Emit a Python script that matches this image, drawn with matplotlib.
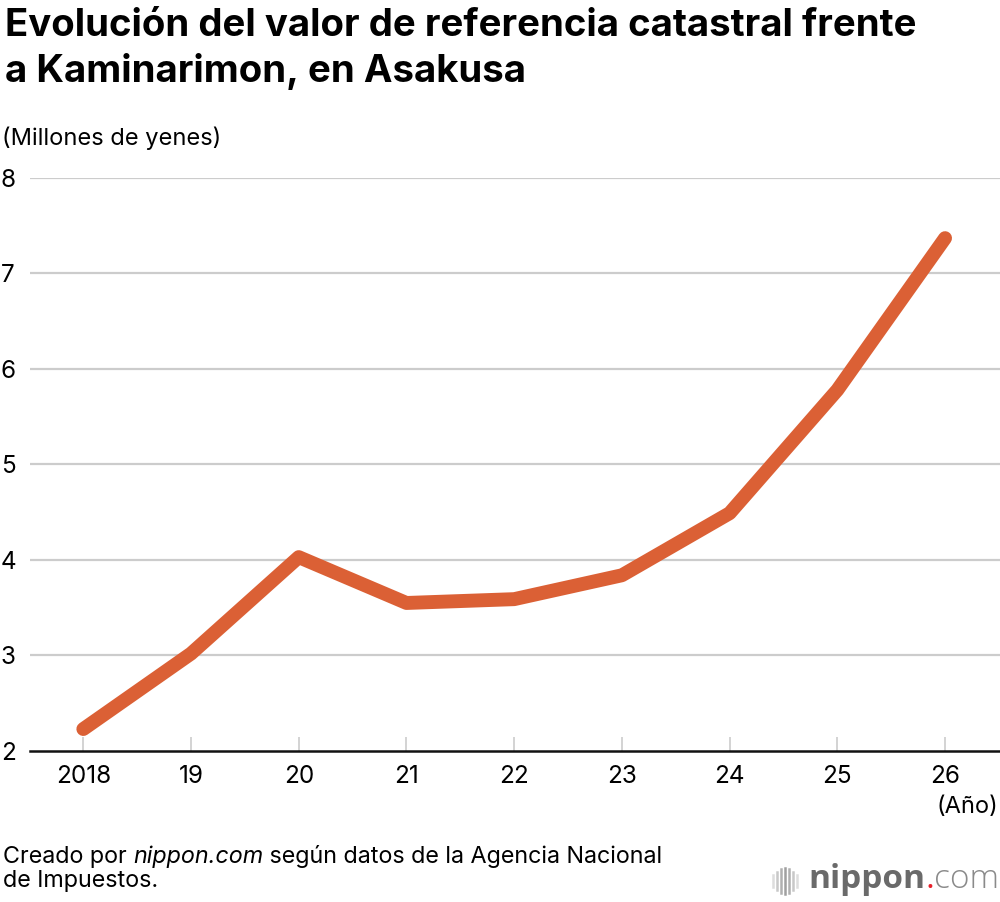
import matplotlib
matplotlib.use("Agg")
import matplotlib.pyplot as plt
from matplotlib.lines import Line2D

plt.rcParams["font.family"] = ["Inter", "DejaVu Sans"]

# ---- data ----
years = [2018, 2019, 2020, 2021, 2022, 2023, 2024, 2025, 2026]
year_labels = ["2018", "19", "20", "21", "22", "23", "24", "25", "26"]
values = [2.23, 3.02, 4.03, 3.55, 3.59, 3.84, 4.49, 5.78, 7.37]
y_ticks = [2, 3, 4, 5, 6, 7, 8]

LINE_COLOR = "#DB6035"
GRID = "#cccccc"

fig = plt.figure(figsize=(10, 9.02), dpi=100)
ax = fig.add_axes([0.03, 0.1674, 0.97, 0.6353])

ax.plot(years, values, color=LINE_COLOR, linewidth=10,
        solid_capstyle="round", solid_joinstyle="round", clip_on=False, zorder=3)

ax.set_xlim(2017.505, 2026.51)
ax.set_ylim(2, 8)
ax.set_yticks(y_ticks)
ax.set_yticklabels([str(v) for v in y_ticks])
ax.set_xticks(years)
ax.set_xticklabels(year_labels)

for v in y_ticks[1:]:
    ax.axhline(v, color=GRID, linewidth=1.6, zorder=1)

for s in ["top", "right", "left"]:
    ax.spines[s].set_visible(False)
ax.spines["bottom"].set_color("#111111")
ax.spines["bottom"].set_linewidth(1.8)
ax.spines["bottom"].set_zorder(2)

ax.tick_params(axis="y", length=0, pad=0, labelsize=17.5)
for lab in ax.get_yticklabels():
    lab.set_horizontalalignment("left")
    lab.set_x(-0.03)
ax.tick_params(axis="x", direction="in", length=10, width=1.2, color=GRID,
               pad=10, labelsize=17.5)

# ---- texts ----
fig.text(0.005, 0.9601, "Evolución del valor de referencia catastral frente",
         fontsize=27.6, fontweight="bold", va="baseline", ha="left")
fig.text(0.005, 0.9094, "a Kaminarimon, en Asakusa",
         fontsize=27.6, fontweight="bold", va="baseline", ha="left")
fig.text(0.002, 0.8392, "(Millones de yenes)", fontsize=17, va="baseline", ha="left")
fig.text(0.998, 0.099, "(Año)", fontsize=17, va="baseline", ha="right")

# caption with italic part
fig.canvas.draw()
renderer = fig.canvas.get_renderer()
x0 = 0.003
y_line1 = 0.0428
parts = [("Creado por ", "normal"), ("nippon.com", "italic"),
         (" según datos de la Agencia Nacional", "normal")]
x = x0
for txt, style in parts:
    t = fig.text(x, y_line1, txt, fontsize=16.8, style=style, va="baseline", ha="left")
    bb = t.get_window_extent(renderer)
    x += bb.width / fig.bbox.width
fig.text(x0, 0.0163, "de Impuestos.", fontsize=16.8, va="baseline", ha="left")

# ---- logo ----
lx = 0.808
ly = 0.0152
t = fig.text(lx, ly, "nippon", fontsize=24, fontweight="bold", color="#6a6a6a",
             family="Open Sans", va="baseline", ha="left")
bb = t.get_window_extent(renderer)
lx += bb.width / fig.bbox.width
t = fig.text(lx, ly, ".", fontsize=24, color="#e8202a", family="Open Sans",
             va="baseline", ha="left")
bb = t.get_window_extent(renderer)
lx += bb.width / fig.bbox.width
fig.text(lx, ly, "com", fontsize=24, fontweight="light", color="#8a8a8a",
         family="Open Sans", va="baseline", ha="left")

bar_x = [773, 777, 781, 785, 789, 793, 797]
bar_h = [12, 18, 24, 26, 24, 18, 12]
bar_c = ["#dddddd", "#c8c8c8", "#b0b0b0", "#a0a0a0", "#b0b0b0", "#c8c8c8", "#dddddd"]
for bx, bh, bc in zip(bar_x, bar_h, bar_c):
    yc = 902 - 881
    fig.add_artist(Line2D([bx / 1000, bx / 1000],
                          [(yc - bh / 2) / 902, (yc + bh / 2) / 902],
                          color=bc, linewidth=1.8, transform=fig.transFigure))

fig.savefig("out.png", dpi=100, facecolor="white")
